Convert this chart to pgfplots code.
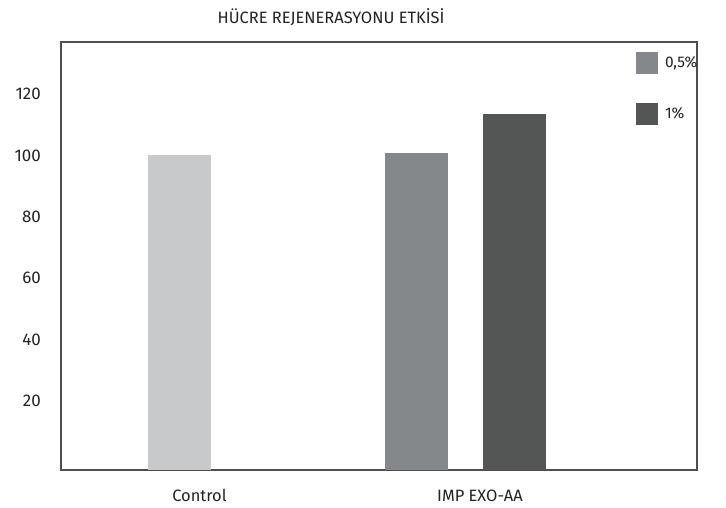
\documentclass[border=0pt]{standalone}
\usepackage{fontspec}
\setmainfont{Fira Sans}
\usepackage{pgfplots}
\pgfplotsset{compat=1.18}
\definecolor{cctrl}{HTML}{C8C9CA}
\definecolor{chalf}{HTML}{85888A}
\definecolor{cone}{HTML}{545655}
\definecolor{cframe}{HTML}{4D4F4F}
\definecolor{ctext}{HTML}{222222}
\begin{document}
\begin{tikzpicture}
\path[use as bounding box] (0,0) rectangle (726bp,508bp);
\begin{axis}[
  at={(61bp,38bp)}, anchor=south west,
  scale only axis, width=636bp, height=428bp,
  xmin=61, xmax=697, ymin=-2.5, ymax=137,
  y coord trafo/.code={\pgfmathparse{#1+2.5}},
  y coord inv trafo/.code={\pgfmathparse{#1-2.5}},
  ybar, bar width=63, bar shift=0pt,
  axis line style={draw=cframe, line width=2bp},
  major tick length=0pt,
  xtick={199.5,480}, xticklabels={Control, IMP EXO-AA},
  ytick={20,40,60,80,100,120}, yticklabels={20,40,60,80,100,120},
  xticklabel style={font=\fontsize{16.5}{19}\selectfont, text=ctext, anchor=base, inner sep=0pt, yshift=-31bp},
  yticklabel style={font=\fontsize{17}{19}\selectfont, text=ctext, anchor=east, inner sep=0pt, xshift=-20bp},
  /pgf/number format/assume math mode=true,
  legend style={draw=none, fill=none, inner sep=0pt, outer sep=0pt,
    at={(axis description cs:0.9041,0.9766)}, anchor=north west,
    row sep=29bp, column sep=0bp,
    nodes={inner sep=0pt, font=\fontsize{15.5}{17}\selectfont, text=ctext},
    legend cell align=left},
  legend image code/.code={\fill[#1] (0bp,-11bp) rectangle (22bp,11bp);},
  clip=false,
]
\addplot[fill=cctrl, draw=none, forget plot] coordinates {(179.5,100.1)};
\addplot[fill=chalf, draw=none] coordinates {(416.5,100.8)};
\addplot[fill=cone, draw=none] coordinates {(514.5,113.5)};
\legend{{\hspace{7bp}0,5\%}, {\hspace{7bp}1\%}}
\end{axis}
\node[font=\fontsize{16.5}{18}\selectfont, text=ctext] at (331bp,491bp) {HÜCRE REJENERASYONU ETKİSİ};
\end{tikzpicture}
\end{document}
